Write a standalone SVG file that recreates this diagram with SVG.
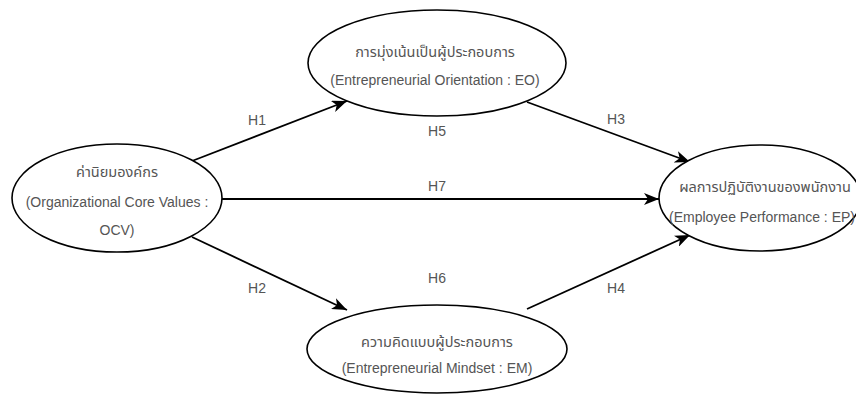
<svg xmlns="http://www.w3.org/2000/svg" width="856" height="394" viewBox="0 0 856 394">
<defs>
<marker id="ah" markerUnits="userSpaceOnUse" markerWidth="16" markerHeight="12" refX="15" refY="6" orient="auto">
<path d="M0,0 L15,6 L0,12 L4,6 z" fill="#000"/>
</marker>
<style>
.node ellipse{fill:#fff;stroke:#000;stroke-width:1.6}
.t{font-family:"Noto Sans Thai","Noto Sans","Liberation Sans",sans-serif;font-size:14.5px;fill:#555;text-anchor:middle}
.e{font-family:"Liberation Sans",sans-serif;font-size:14px;fill:#555;text-anchor:middle}
.c line{stroke:#000;stroke-width:1.8;marker-end:url(#ah)}
.lbl{font-family:"Liberation Sans",sans-serif;font-size:14px;fill:#555;text-anchor:middle}
</style>
</defs>
<rect width="856" height="394" fill="#fff"/>
<g id="connectors" class="c">
<line x1="192" y1="161" x2="347" y2="101"/>
<line x1="192" y1="237" x2="347" y2="310"/>
<line x1="222" y1="199" x2="659" y2="199"/>
<line x1="527" y1="102" x2="690" y2="162"/>
<line x1="527" y1="309" x2="690" y2="235"/>
</g>
<g id="labels">
<text class="lbl" x="257" y="125">H1</text>
<text class="lbl" x="257" y="293">H2</text>
<text class="lbl" x="616" y="124">H3</text>
<text class="lbl" x="616" y="293">H4</text>
<text class="lbl" x="437" y="136">H5</text>
<text class="lbl" x="437" y="283">H6</text>
<text class="lbl" x="437" y="191">H7</text>
</g>
<g id="OCV" class="node">
<ellipse cx="117" cy="198" rx="105" ry="54"/>
<text class="t" x="117" y="177">ค่านิยมองค์กร</text>
<text class="e" x="117" y="207">(Organizational Core Values :</text>
<text class="e" x="117" y="235">OCV)</text>
</g>
<g id="EO" class="node">
<ellipse cx="437" cy="63" rx="129" ry="53"/>
<text class="t" x="435" y="57">การมุ่งเน้นเป็นผู้ประกอบการ</text>
<text class="e" x="435" y="85">(Entrepreneurial Orientation : EO)</text>
</g>
<g id="EM" class="node">
<ellipse cx="437" cy="349" rx="130" ry="44"/>
<text class="t" x="437" y="347">ความคิดแบบผู้ประกอบการ</text>
<text class="e" x="437" y="373">(Entrepreneurial Mindset : EM)</text>
</g>
<g id="EP" class="node">
<ellipse cx="760" cy="198" rx="101" ry="53"/>
<text class="t" x="765" y="192">ผลการปฏิบัติงานของพนักงาน</text>
<text class="e" x="762" y="222">(Employee Performance : EP)</text>
</g>
</svg>
